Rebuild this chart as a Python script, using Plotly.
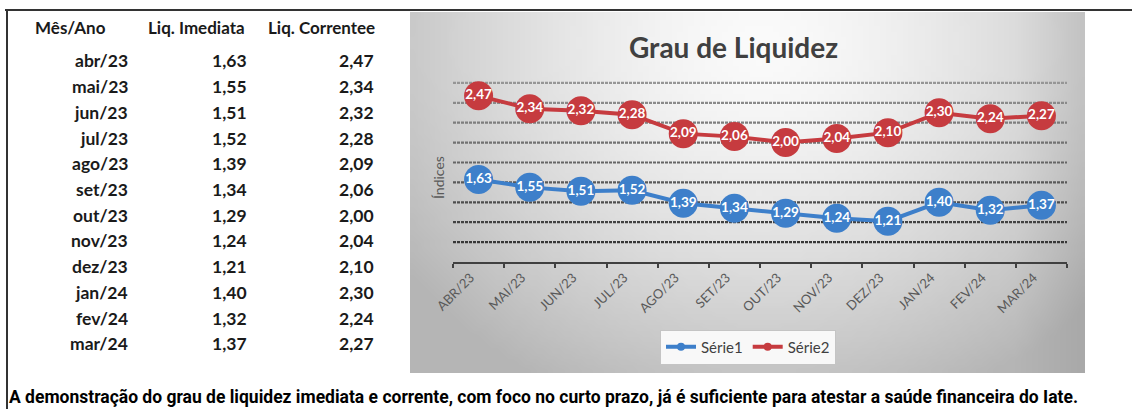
import base64, struct, zlib, math
import plotly.graph_objects as go

# ---------------- data ----------------
months = ["abr/23", "mai/23", "jun/23", "jul/23", "ago/23", "set/23",
          "out/23", "nov/23", "dez/23", "jan/24", "fev/24", "mar/24"]
liq_imediata = [1.63, 1.55, 1.51, 1.52, 1.39, 1.34, 1.29, 1.24, 1.21, 1.40, 1.32, 1.37]
liq_corrente = [2.47, 2.34, 2.32, 2.28, 2.09, 2.06, 2.00, 2.04, 2.10, 2.30, 2.24, 2.27]
table_headers = ["Mês/Ano", "Liq. Imediata", "Liq. Correntee"]
series_names = ["Série1", "Série2"]
chart_title = "Grau de Liquidez"
y_title = "Índices"
caption = ("A demonstração do grau de liquidez imediata e corrente, com foco no curto prazo, "
           "já é suficiente para atestar a saúde financeira do Iate.")

W, H = 1132, 409
BLUE = "#3d7fca"
RED = "#c63b3f"


def px(x):
    return x / W


def py(y):
    return 1 - y / H


def fmt(v):
    return f"{v:.2f}".replace(".", ",")


# ------------- gradient background image (pure python png) -------------
def make_png(w, h, func):
    raw = bytearray()
    for j in range(h):
        raw.append(0)
        for i in range(w):
            g = func(i / (w - 1), j / (h - 1))
            raw += bytes((g, g, g))
    def chunk(tag, data):
        c = struct.pack(">I", len(data)) + tag + data
        return c + struct.pack(">I", zlib.crc32(tag + data) & 0xffffffff)
    png = b"\x89PNG\r\n\x1a\n"
    png += chunk(b"IHDR", struct.pack(">IIBBBBB", w, h, 8, 2, 0, 0, 0))
    png += chunk(b"IDAT", zlib.compress(bytes(raw), 9))
    png += chunk(b"IEND", b"")
    return "data:image/png;base64," + base64.b64encode(png).decode()


def grad(u, v):
    du = (u - 0.52) / 0.66
    dv = (v - 0.08) / 1.1
    d = min(1.0, math.sqrt(du * du + dv * dv))
    g = 251 - 70 * d ** 1.5
    if u > 0.9:
        g -= (u - 0.9) * 120
    return int(max(0, min(255, g)))


bg_src = make_png(120, 64, grad)

# ---------------- figure ----------------
fig = go.Figure()
cats = [m.upper() for m in months]

for vals, col in [(liq_imediata, BLUE), (liq_corrente, RED)]:
    fig.add_trace(go.Scatter(
        x=cats, y=vals, mode="lines+markers+text", showlegend=False,
        line=dict(color=col, width=4), marker=dict(color=col, size=29),
        text=[fmt(v) for v in vals], textposition="middle center",
        textfont=dict(color="white", size=13.5, family="Lato", weight="bold"),
        hoverinfo="skip"))
# legend-only entries with small markers
for name, col in zip(series_names, [BLUE, RED]):
    fig.add_trace(go.Scatter(x=[None], y=[None], mode="lines+markers", name=name,
                             line=dict(color=col, width=4), marker=dict(color=col, size=8)))

# grid lines (darker towards the bottom)
YMIN, YMAX, STEP = 0.8, 2.62, 0.2
n_lines = 9
for k in range(1, n_lines + 1):
    yv = YMIN + STEP * k
    t = (k - 1) / (n_lines - 1)
    g = int(55 + 95 * t)
    fig.add_shape(type="line", xref="x domain", yref="y", x0=0, x1=1, y0=yv, y1=yv,
                  line=dict(color=f"rgb({g},{g},{g})", width=2.2, dash="3px,1px"), layer="below")

TXT = "#1a1a1a"
annotations = []
# table
head_x = [70, 196, 321]
for hx, ht in zip(head_x, table_headers):
    annotations.append(dict(x=px(hx), y=py(28), text=ht, xanchor="center", yanchor="middle",
                            font=dict(size=17, family="Lato", color=TXT, weight="bold")))
col_right = [130, 249, 376]
for i, m in enumerate(months):
    yy = py(61 + 25.7 * i)
    for cx, val in zip(col_right, [m, fmt(liq_imediata[i]), fmt(liq_corrente[i])]):
        annotations.append(dict(x=px(cx), y=yy, text=val, xanchor="right", yanchor="middle",
                                font=dict(size=17.5, family="Lato", color=TXT, weight="bold")))
# chart title
annotations.append(dict(x=px(733), y=py(47), text=chart_title, xanchor="center", yanchor="middle",
                        font=dict(size=28, family="Lato", color="#404040", weight="bold")))
# y title
annotations.append(dict(x=px(438), y=py(177), text=y_title, textangle=-90, xanchor="center",
                        yanchor="middle", font=dict(size=14, family="Lato", color="#595959")))
# caption
annotations.append(dict(x=px(7), y=py(397), text=caption, xanchor="left", yanchor="middle",
                        font=dict(size=17.5, family="Roboto", color="#000000", weight="bold")))
for a in annotations:
    a.setdefault("xref", "paper")
    a.setdefault("yref", "paper")
    a["showarrow"] = False

fig.update_layout(
    width=W, height=H, margin=dict(l=0, r=0, t=0, b=0, autoexpand=False),
    paper_bgcolor="white", plot_bgcolor="rgba(0,0,0,0)",
    annotations=annotations,
    images=[dict(source=bg_src, xref="paper", yref="paper", x=px(410), y=py(12),
                 sizex=(1085 - 410) / W, sizey=(373 - 12) / H, sizing="stretch",
                 xanchor="left", yanchor="top", layer="below")],
    xaxis=dict(domain=[px(453), px(1067)], type="category", range=[-0.5, len(cats) - 0.5],
               automargin=False,
               showgrid=False, showline=True, linecolor="#404040", linewidth=2,
               ticks="outside", tickson="boundaries", ticklen=4, tickwidth=2, tickcolor="#404040",
               tickangle=-45, tickfont=dict(size=13, family="Lato", color="#595959"),
               ticklabelstandoff=1, ticklabelshift=-8, fixedrange=True),
    yaxis=dict(domain=[(H - 262) / H, (H - 80.9) / H], range=[YMIN, YMAX], automargin=False,
               showgrid=False, zeroline=False, showline=False, showticklabels=False,
               ticks="", fixedrange=True),
    legend=dict(orientation="h", x=px(748), y=py(347), xanchor="center", yanchor="middle",
                bgcolor="#f8f8f8", bordercolor="#c4c4c4", borderwidth=1,
                font=dict(size=15, family="Lato", color="#404040"),
                itemwidth=30, tracegroupgap=0),
    shapes=list(fig.layout.shapes) + [
        dict(type="line", xref="paper", yref="paper", x0=px(5), x1=1, y0=py(10), y1=py(10),
             line=dict(color="#333333", width=2)),
        dict(type="line", xref="paper", yref="paper", x0=px(7), x1=px(7), y0=py(10), y1=0,
             line=dict(color="#333333", width=2)),
    ],
)

fig.write_html("out.html", config={"displayModeBar": False},
               post_script="document.body.style.margin='0px';document.body.style.overflow='hidden';")
